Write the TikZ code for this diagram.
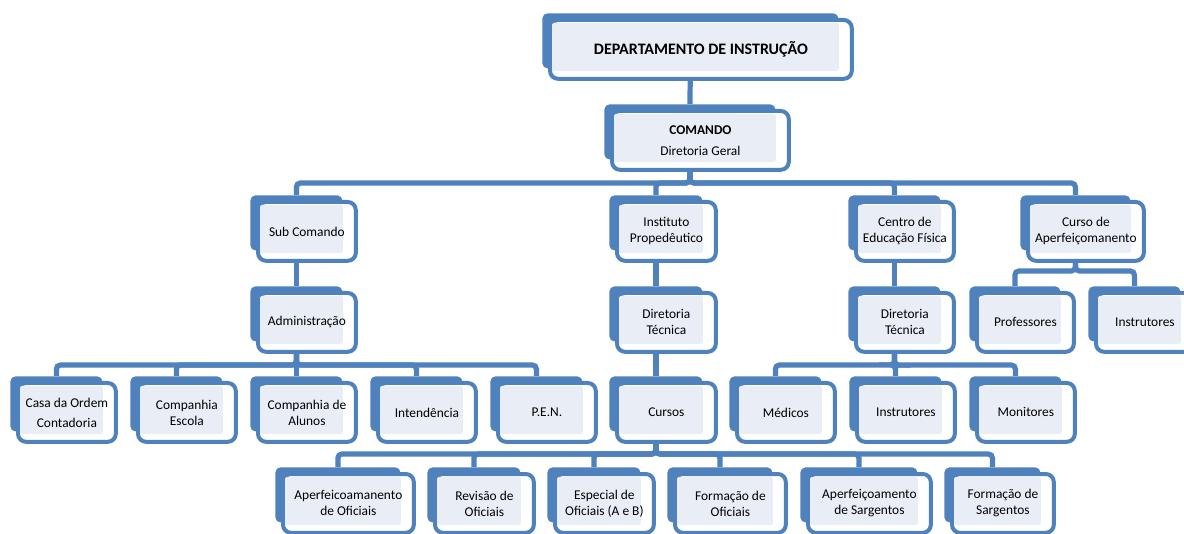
\documentclass[tikz,border=0pt]{standalone}
\usepackage{fontspec}
\setmainfont{Carlito}
\usetikzlibrary{backgrounds, calc, positioning}
\definecolor{boxblue}{HTML}{4F81BD}
\definecolor{boxlight}{HTML}{E9EDF5}
\tikzset{
  backbox/.style={fill=boxblue, rounded corners=2.5pt, minimum height=27.5pt, inner sep=0pt, anchor=north west},
  boxframe/.style={draw=boxblue, fill=white, line width=2pt, rounded corners=4pt},
  boxfill/.style={fill=boxlight, rounded corners=1pt},
  boxtext/.style={align=center, font=\fontsize{6.7}{8}\selectfont, inner sep=0pt},
  link/.style={draw=boxblue, line width=2.6pt, rounded corners=2pt},
}
\newcommand\orgbox[5]{%
  \node[backbox, minimum width=#4*0.5pt] (#1) at (#2,#3) {};
  \draw[boxframe] ($(#1.north west)+(8,7)$) rectangle ($(#1.south east)+(13,10)$);
  \fill[boxfill] ($(#1.north west)+(10,10)$) rectangle ($(#1.south east)+(0,2)$);
  \node[boxtext] (#1-txt) at ($(#1.center)+(10.5,8.5)$) {#5};
}

\begin{document}
\begin{tikzpicture}[x=0.5pt, y=-0.5pt]
\useasboundingbox (0,0) rectangle (1184,534);

\orgbox{dep}{542}{13}{296}{\fontsize{8}{9.5}\selectfont\bfseries DEPARTAMENTO DE INSTRUÇÃO}
\orgbox{cmd}{604}{104}{171}{\textbf{COMANDO}\\[2.5pt]Diretoria Geral}

\orgbox{sub}{250}{195}{92}{Sub Comando}
\orgbox{inst}{609}{195}{93}{Instituto\\Propedêutico}
\orgbox{cef}{848}{195}{92}{Centro de\\Educação Física}
\orgbox{cap}{1020}{195}{110}{Curso de\\Aperfeiçomanento}

\orgbox{adm}{250}{286}{92}{Administração}
\orgbox{dtp}{609}{286}{93}{Diretoria\\Técnica}
\orgbox{dtc}{848}{286}{92}{Diretoria\\Técnica}
\orgbox{prof}{969}{286}{91}{Professores}
\orgbox{instr}{1088}{286}{92}{Instrutores}

\orgbox{casa}{10}{376}{92}{Casa da Ordem\\[2pt]Contadoria}
\orgbox{cesc}{130}{376}{92}{Companhia\\Escola}
\orgbox{calu}{250}{376}{92}{Companhia de\\Alunos}
\orgbox{inte}{370}{376}{92}{Intendência}
\orgbox{pen}{490}{376}{92}{P.E.N.}
\orgbox{curs}{609}{376}{93}{Cursos}
\orgbox{med}{729}{376}{92}{Médicos}
\orgbox{instc}{849}{376}{92}{Instrutores}
\orgbox{mon}{969}{376}{92}{Monitores}

\orgbox{aof}{275}{467}{125}{Aperfeicoamanento\\de Oficiais}
\orgbox{rev}{427}{467}{93}{Revisão de\\Oficiais}
\orgbox{esp}{547}{467}{93}{Especial de\\Oficiais (A e B)}
\orgbox{fof}{667}{467}{105}{Formação de\\Oficiais}
\orgbox{asg}{800}{467}{117}{Aperfeiçoamento\\de Sargentos}
\orgbox{fsg}{944}{467}{96}{Formação de\\Sargentos}

\begin{scope}[on background layer]
\draw[link] (dep.south) -- (cmd.north);
\foreach \k in {sub,inst,cef,cap}
  \draw[link] (cmd.south) -- (cmd.south |- 0,183) -| (\k.north);
\draw[link] (sub.south) -- (adm.north);
\draw[link] (inst.south) -- (dtp.north);
\draw[link] (cef.south) -- (dtc.north);
\foreach \k in {prof,instr}
  \draw[link] (cap.south) -- (cap.south |- 0,271) -| (\k.north);
\foreach \k in {casa,cesc,calu,inte,pen}
  \draw[link] (adm.south) -- (adm.south |- 0,365) -| (\k.north);
\draw[link] (dtp.south) -- (curs.north);
\foreach \k in {med,instc,mon}
  \draw[link] (dtc.south) -- (dtc.south |- 0,365) -| (\k.north);
\foreach \k in {aof,rev,esp,fof,asg,fsg}
  \draw[link] (curs.south) -- (curs.south |- 0,454) -| (\k.north);
\end{scope}
\end{tikzpicture}
\end{document}
